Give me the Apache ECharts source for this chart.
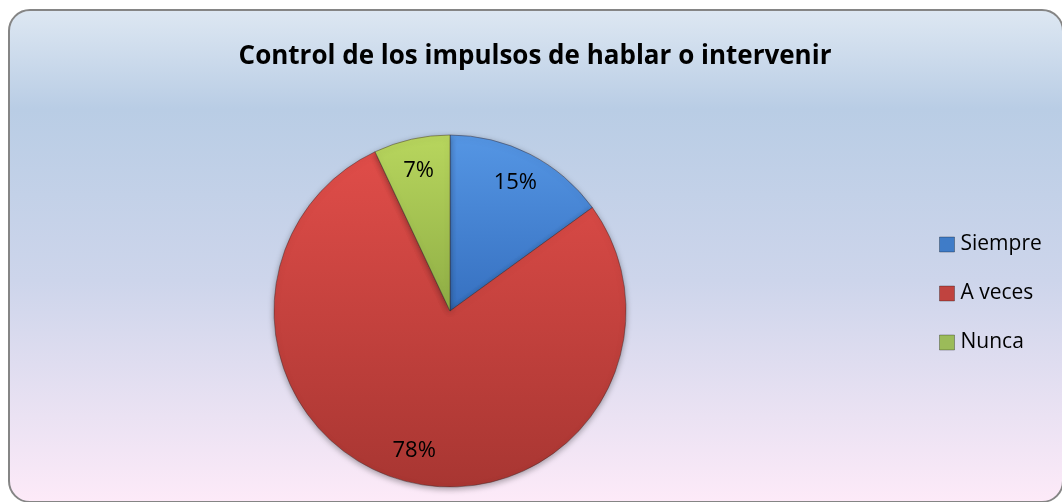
<!DOCTYPE html>
<html>
<head>
<meta charset="utf-8">
<script src="https://cdn.jsdelivr.net/npm/echarts@6/dist/echarts.min.js"></script>
<style>
  html, body { margin: 0; padding: 0; width: 1062px; height: 502px; overflow: hidden; background: #ffffff; }
  .frame {
    position: absolute;
    left: 8px;
    top: 9px;
    width: 1056px;
    height: 494px;
    border: 2px solid #858585;
    border-radius: 22px;
    background: linear-gradient(to bottom, #dde7f2 0%, #b9cde5 20%, #cdd5eb 55%, #fdeaf8 100%);
    box-sizing: border-box;
  }
  #chart { position: absolute; left: 0; top: 0; width: 1062px; height: 502px; }
</style>
</head>
<body>
<div class="frame"></div>
<div id="chart"></div>
<script>
// datos
const categories = ['Siempre', 'A veces', 'Nunca']
const values = [15, 78, 7]

const baseColors = [
  ['#5596e4', '#3670c0'],
  ['#e04d49', '#a83632'],
  ['#b8d65e', '#8fae45']
]
const legendColors = ['#3f7cc8', '#c0433f', '#9bbb59']

const myChart = echarts.init(document.getElementById('chart'))

const pieData = categories.map((name, i) => ({
  name: name,
  value: values[i],
  itemStyle: {
    color: new echarts.graphic.LinearGradient(0, 0, 0, 1, [
      { offset: 0, color: baseColors[i][0] },
      { offset: 1, color: baseColors[i][1] }
    ])
  }
}))

const option = {
  backgroundColor: 'transparent',
  animation: false,
  title: {
    text: 'Control de los impulsos de hablar o intervenir',
    left: 530,
    top: 39,
    textAlign: 'center',
    textStyle: {
      fontFamily: 'Open Sans',
      fontWeight: 'bold',
      fontSize: 26,
      color: '#000'
    }
  },
  legend: {
    orient: 'vertical',
    left: 934,
    top: 229,
    icon: 'rect',
    itemWidth: 15,
    itemHeight: 15,
    itemGap: 28,
    textStyle: { fontFamily: 'Open Sans', fontSize: 21, color: '#000', padding: [0, 0, 0, 1] },
    data: categories.map((name, i) => ({
      name: name,
      itemStyle: { color: legendColors[i], borderColor: 'rgba(0,0,0,0.3)', borderWidth: 1 }
    }))
  },
  series: [
    {
      name: 'pie',
      type: 'pie',
      center: [450, 311],
      radius: 176,
      startAngle: 90,
      clockwise: true,
      label: { show: false },
      labelLine: { show: false },
      emphasis: { disabled: true },
      itemStyle: {
        borderColor: 'rgba(60,40,40,0.45)',
        borderWidth: 1,
        shadowBlur: 6,
        shadowOffsetY: 2,
        shadowColor: 'rgba(0,0,0,0.35)'
      },
      data: pieData
    },
    {
      name: 'labels',
      type: 'pie',
      center: [450, 311],
      radius: [106, 176],
      startAngle: 90,
      clockwise: true,
      silent: true,
      legendHoverLink: false,
      itemStyle: { color: 'transparent' },
      label: {
        show: true,
        position: 'inner',
        formatter: '{c}%',
        fontFamily: 'Open Sans',
        fontSize: 22,
        color: '#000'
      },
      labelLine: { show: false },
      data: categories.map((name, i) => ({ name: name, value: values[i] }))
    }
  ]
}

myChart.setOption(option)
</script>
</body>
</html>
